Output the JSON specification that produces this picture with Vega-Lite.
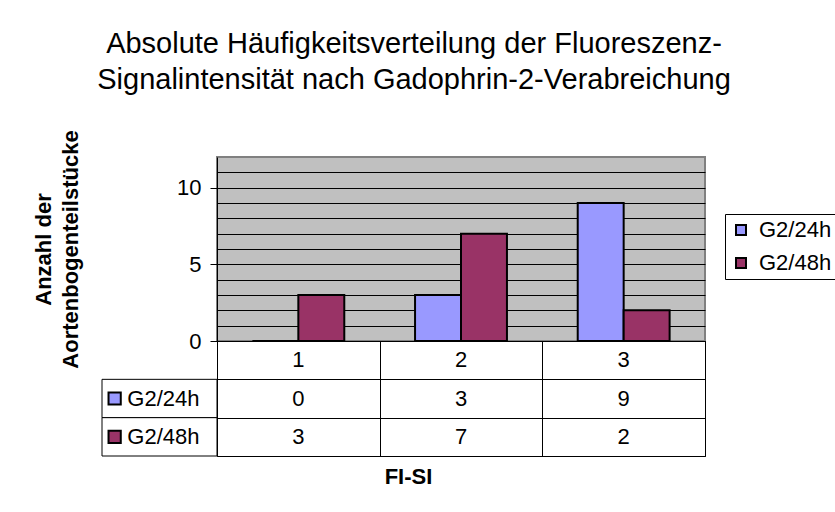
{
  "$schema": "https://vega.github.io/schema/vega-lite/v6.json",
  "autosize": {"type": "none"},
  "padding": {"left": 102, "top": 157, "right": 733, "bottom": 355},
  "background": "white",
  "title": {
    "text": ["Absolute Häufigkeitsverteilung der Fluoreszenz-", "Signalintensität nach Gadophrin-2-Verabreichung"],
    "fontSize": 29, "font": "Liberation Sans", "fontWeight": "normal", "color": "black",
    "lineHeight": 36, "anchor": "middle", "offset": 34, "dx": -21
  },
  "config": {"font": "Liberation Sans"},
  "datasets": {
    "tab": [
      {"cat": "1", "series": "G2/24h", "value": 0},
      {"cat": "1", "series": "G2/48h", "value": 3},
      {"cat": "2", "series": "G2/24h", "value": 3},
      {"cat": "2", "series": "G2/48h", "value": 7},
      {"cat": "3", "series": "G2/24h", "value": 9},
      {"cat": "3", "series": "G2/48h", "value": 2}
    ],
    "keys": [{"series": "G2/24h"}, {"series": "G2/48h"}]
  },
  "columns": 2,
  "spacing": 0,
  "bounds": "flush",
  "align": "each",
  "resolve": {"scale": {"color": "independent"}, "legend": {"color": "independent"}},
  "concat": [
    {
      "width": 115, "height": 184,
      "data": {"values": []},
      "mark": "text",
      "encoding": {},
      "view": {"stroke": null}
    },
    {
      "width": 488, "height": 184,
      "data": {"name": "tab"},
      "mark": {"type": "bar", "stroke": "black", "strokeWidth": 2},
      "encoding": {
        "x": {"field": "cat", "type": "nominal", "scale": {"domain": ["1", "2", "3"], "paddingInner": 0, "paddingOuter": 0}, "axis": null},
        "xOffset": {"field": "series", "type": "nominal", "scale": {"domain": ["G2/24h", "G2/48h"], "paddingInner": 0, "paddingOuter": 0.77}},
        "y": {
          "field": "value", "type": "quantitative",
          "scale": {"domain": [0, 12], "nice": false, "zero": true},
          "axis": {
            "values": [0, 1, 2, 3, 4, 5, 6, 7, 8, 9, 10, 11, 12],
            "labelExpr": "datum.value % 5 === 0 ? datum.label : ''",
            "tickOpacity": {"condition": {"test": "datum.value % 5 === 0 && datum.value < 12", "value": 1}, "value": 0},
            "gridOpacity": {"condition": {"test": "datum.value === 12", "value": 0}, "value": 1},
            "grid": true, "gridColor": "black", "gridWidth": 1,
            "domainColor": "black", "domainWidth": 1,
            "tickColor": "black", "tickSize": 7, "tickWidth": 1,
            "labelFontSize": 22, "labelFont": "Liberation Sans", "labelColor": "black", "labelPadding": 9,
            "title": ["Anzahl der", "Aortenbogenteilstücke"],
            "titleFontSize": 22, "titleFont": "Liberation Sans", "titleFontWeight": "bold", "titleColor": "black",
            "titleLineHeight": 27, "titlePadding": 94
          }
        },
        "color": {
          "field": "series", "type": "nominal",
          "scale": {"domain": ["G2/24h", "G2/48h"], "range": ["#9999FF", "#993366"]},
          "legend": {
            "title": null, "orient": "none", "legendX": 508, "legendY": 57,
            "symbolType": "square", "symbolSize": 100, "symbolStrokeColor": "black", "symbolStrokeWidth": 2,
            "labelFontSize": 22, "labelFont": "Liberation Sans", "labelColor": "black", "labelOffset": 7,
            "strokeColor": "black", "padding": 5, "rowPadding": 11, "fillColor": "white"
          }
        }
      },
      "view": {"fill": "#C0C0C0", "stroke": "#808080", "strokeWidth": 2}
    },
    {
      "width": 115, "height": 115,
      "data": {"name": "keys"},
      "encoding": {
        "y": {"field": "series", "type": "nominal", "scale": {"domain": ["hdr", "G2/24h", "G2/48h"], "paddingInner": 0, "paddingOuter": 0}, "axis": null}
      },
      "layer": [
        {
          "mark": {"type": "rect", "fill": "white", "stroke": "black", "strokeWidth": 1},
          "encoding": {
            "x": {"datum": 0, "type": "quantitative", "scale": {"domain": [0, 1]}, "axis": null},
            "x2": {"datum": 1}
          }
        },
        {
          "mark": {"type": "point", "shape": "square", "filled": true, "size": 150, "stroke": "black", "strokeWidth": 2, "opacity": 1},
          "encoding": {
            "x": {"datum": 0.11, "type": "quantitative"},
            "color": {"field": "series", "type": "nominal", "scale": {"domain": ["G2/24h", "G2/48h"], "range": ["#9999FF", "#993366"]}, "legend": null}
          }
        },
        {
          "mark": {"type": "text", "align": "left", "fontSize": 22, "font": "Liberation Sans", "color": "black"},
          "encoding": {
            "x": {"datum": 0.22, "type": "quantitative"},
            "text": {"field": "series"}
          }
        }
      ],
      "view": {"stroke": null}
    },
    {
      "width": 488, "height": 115,
      "data": {"name": "tab"},
      "encoding": {
        "x": {
          "field": "cat", "type": "nominal",
          "scale": {"domain": ["1", "2", "3"], "paddingInner": 0, "paddingOuter": 0},
          "axis": {
            "orient": "bottom", "tickBand": "extent", "grid": true, "gridColor": "black", "gridWidth": 1,
            "labels": false, "ticks": false, "domain": false,
            "title": "FI-SI", "titleFontSize": 22, "titleFont": "Liberation Sans", "titleFontWeight": "bold", "titleColor": "black",
            "titlePadding": 10, "titleX": 191
          }
        }
      },
      "layer": [
        {
          "mark": {"type": "text", "fontSize": 22, "font": "Liberation Sans", "color": "black"},
          "encoding": {
            "y": {
              "field": "series", "type": "nominal",
              "scale": {"domain": ["hdr", "G2/24h", "G2/48h"], "paddingInner": 0, "paddingOuter": 0},
              "axis": {"orient": "left", "tickBand": "extent", "grid": true, "gridColor": "black", "gridWidth": 1, "labels": false, "ticks": false, "domain": false, "title": null}
            },
            "text": {"field": "value"}
          }
        },
        {
          "transform": [{"filter": "datum.series === 'G2/24h'"}],
          "mark": {"type": "text", "fontSize": 22, "font": "Liberation Sans", "color": "black"},
          "encoding": {
            "y": {"datum": "hdr", "type": "nominal"},
            "text": {"field": "cat"}
          }
        }
      ],
      "view": {"stroke": "black", "strokeWidth": 1}
    }
  ]
}
